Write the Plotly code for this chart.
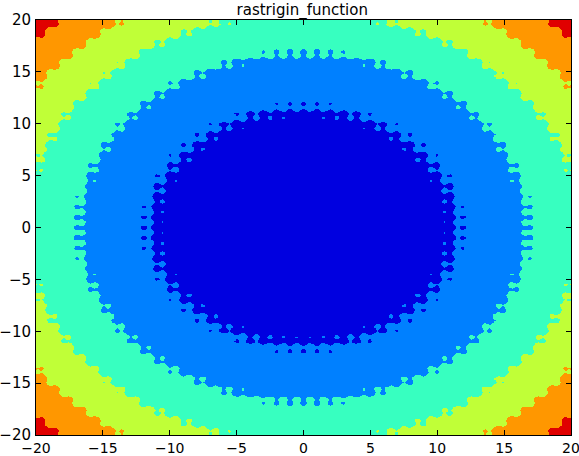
import numpy as np
import plotly.graph_objects as go

# Rastrigin function parameters and grid
A = 10
x_min, x_max, step = -20.0, 20.0, 0.08
levels = [0, 150, 300, 450, 600, 750, 900]
band_colors = ["#0000e0", "#0080ff", "#37ffc0", "#c0ff37", "#ff9700", "#e00000"]
tick_vals = [-20, -15, -10, -5, 0, 5, 10, 15, 20]
title_text = "rastrigin_function"

xs = np.arange(x_min, x_max + step / 2, step)
ys = np.arange(x_min, x_max + step / 2, step)
X, Y = np.meshgrid(xs, ys)
Z = 2 * A + (X**2 - A * np.cos(2 * np.pi * X)) + (Y**2 - A * np.cos(2 * np.pi * Y))

# stepped colorscale
zmin, zmax = levels[0], levels[-1]
cs = []
for i, c in enumerate(band_colors):
    a = (levels[i] - zmin) / (zmax - zmin)
    b = (levels[i + 1] - zmin) / (zmax - zmin)
    cs.append([a, c])
    cs.append([b, c])

fig = go.Figure(go.Heatmap(
    x=xs, y=ys, z=Z, colorscale=cs, zmin=zmin, zmax=zmax,
    showscale=False, zsmooth=False, hoverinfo="skip",
))

axis_common = dict(
    range=[-20, 20], tickvals=tick_vals, ticks="inside", ticklen=5,
    tickcolor="black", mirror="ticks", showline=True, linecolor="black",
    linewidth=1, showgrid=False, zeroline=False, automargin=False,
    ticklabeloverflow="allow",
)
fig.update_xaxes(ticklabelstandoff=0,
                 tickfont=dict(family="DejaVu Sans", size=14, color="black"),
                 **axis_common)
fig.update_yaxes(ticklabelstandoff=1,
                 tickfont=dict(family="DejaVu Sans", size=15, color="black"),
                 **axis_common)

fig.update_layout(
    width=579, height=456,
    margin=dict(l=36, r=8, t=20, b=21),
    paper_bgcolor="white", plot_bgcolor="white",
    title=dict(text=title_text, x=0.522, xanchor="center", y=0.979, yanchor="middle",
               yref="container",
               font=dict(family="DejaVu Sans", size=15, color="black")),
)
fig.write_html("out.html", config={"displayModeBar": False},
               post_script="document.body.style.margin='0';document.body.style.overflow='hidden';")
